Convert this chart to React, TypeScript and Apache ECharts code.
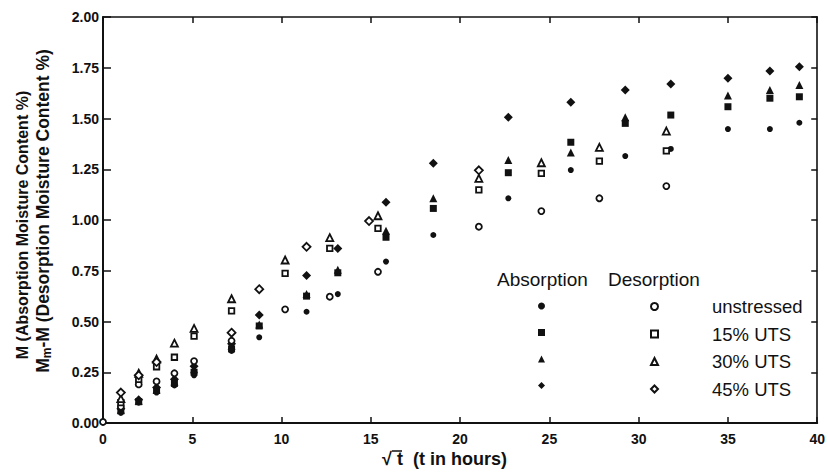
import React, { useEffect, useRef } from "react";
import * as echarts from "echarts";

const xTicks = [0, 5, 10, 15, 20, 25, 30, 35, 40];
const yTicks = [0, 0.25, 0.5, 0.75, 1.0, 1.25, 1.5, 1.75, 2.0];

const absX = [1, 2, 3, 4, 5.1, 7.2, 8.75, 11.4, 13.15, 15.85, 18.5, 22.7, 26.2, 29.25, 31.8, 35, 37.35, 39];
const absUnstressed = [0.05, 0.1, 0.15, 0.185, 0.235, 0.355, 0.422, 0.548, 0.635, 0.795, 0.926, 1.107, 1.246, 1.315, 1.35, 1.448, 1.448, 1.479];
const abs15 = [0.06, 0.105, 0.16, 0.195, 0.25, 0.365, 0.478, 0.625, 0.74, 0.915, 1.057, 1.233, 1.383, 1.476, 1.517, 1.558, 1.6, 1.607];
const abs30 = [0.065, 0.11, 0.165, 0.205, 0.265, 0.38, 0.485, 0.635, 0.755, 0.947, 1.107, 1.296, 1.333, 1.506, null, 1.613, 1.64, 1.665];
const abs45 = [0.07, 0.115, 0.175, 0.215, 0.28, 0.39, 0.532, 0.726, 0.86, 1.087, 1.279, 1.506, 1.58, 1.64, 1.67, 1.698, 1.734, 1.755];

const desX = [0, 1, 2, 3, 4, 5.1, 7.2, 8.75, 10.2, 11.4, 12.7, 14.9, 15.4, 21.05, 24.55, 27.8, 31.55];
const desUnstressed = [0.005, 0.08, 0.19, 0.205, 0.245, 0.305, 0.405, null, 0.56, null, 0.622, null, 0.745, 0.967, 1.044, 1.107, 1.167];
const des15 = [null, 0.1, 0.215, 0.277, 0.324, 0.428, 0.552, null, 0.737, null, 0.86, null, 0.959, 1.148, 1.23, 1.29, 1.341];
const des30 = [null, 0.12, 0.245, 0.315, 0.393, 0.466, 0.612, null, 0.803, null, 0.913, null, 1.021, 1.205, 1.282, 1.358, 1.438];
const des45 = [null, 0.15, 0.235, 0.3, null, null, 0.445, 0.659, null, 0.868, null, 0.995, null, 1.245, null, null, null];

const stressLabels = ["unstressed", "15% UTS", "30% UTS", "45% UTS"];

const FONT = "Liberation Sans, Arial, Helvetica, sans-serif";
const INK = "#111";

function pairs(xs: number[], ys: (number | null)[]) {
  const out: number[][] = [];
  xs.forEach((x, i) => {
    const y = ys[i];
    if (y !== null && y !== undefined) out.push([x, y]);
  });
  return out;
}

export default function App() {
  const ref = useRef<HTMLDivElement>(null);

  useEffect(() => {
    if (!ref.current) return;
    const chart = echarts.init(ref.current, undefined, { renderer: "svg" });

    const absSets = [absUnstressed, abs15, abs30, abs45];
    const desSets = [desUnstressed, des15, des30, des45];
    const symbols = ["circle", "rect", "triangle", "diamond"];
    const absSizes = [6, 7, 8, 9];
    const desSizes = [6, 5.5, 7, 8];

    const series: any[] = [];
    stressLabels.forEach((lab, i) => {
      series.push({
        name: "Absorption " + lab,
        type: "scatter",
        symbol: symbols[i],
        symbolSize: absSizes[i],
        itemStyle: { color: INK, borderColor: INK, borderWidth: 0, opacity: 1 },
        data: pairs(absX, absSets[i]),
        z: 3,
      });
    });
    stressLabels.forEach((lab, i) => {
      series.push({
        name: "Desorption " + lab,
        type: "scatter",
        symbol: symbols[i],
        symbolSize: desSizes[i],
        itemStyle: { color: "#fff", borderColor: INK, borderWidth: 1.8, opacity: 1 },
        data: pairs(desX, desSets[i]),
        z: 4,
      });
    });

    const axisCommon = {
      min: 0,
      axisLine: { show: true, onZero: false, lineStyle: { color: INK, width: 2 } },
      axisTick: { show: true, inside: true, length: 6, lineStyle: { color: INK, width: 1.5 } },
      splitLine: { show: false },
    };

    const legendCommon = {
      orient: "vertical",
      top: 292,
      itemWidth: 7,
      itemHeight: 7,
      itemGap: 8.5,
      selectedMode: false,
    };

    chart.setOption({
      animation: false,
      backgroundColor: "#fff",
      grid: { left: 103, right: 9, top: 17, bottom: 53, containLabel: false },
      xAxis: [
        {
          ...axisCommon,
          type: "value",
          position: "bottom",
          max: 40,
          interval: 5,
          axisLabel: {
            color: INK,
            fontFamily: FONT,
            fontSize: 14,
            fontWeight: "bold",
            margin: 9,
            formatter: (v: number) => (xTicks.includes(v) ? String(v) : ""),
          },
        },
        {
          ...axisCommon,
          type: "value",
          position: "top",
          max: 40,
          interval: 5,
          axisLine: { show: true, onZero: false, lineStyle: { color: INK, width: 1.6 } },
          axisLabel: { show: false },
        },
      ],
      yAxis: [
        {
          ...axisCommon,
          type: "value",
          position: "left",
          max: 2,
          interval: 0.25,
          axisTick: { show: true, inside: true, length: 8, lineStyle: { color: INK, width: 1.5 } },
          axisLabel: {
            color: INK,
            fontFamily: FONT,
            fontSize: 14,
            fontWeight: "bold",
            margin: 4,
            formatter: (v: number) => (yTicks.some((t) => Math.abs(t - v) < 1e-9) ? v.toFixed(2) : ""),
          },
        },
        {
          ...axisCommon,
          type: "value",
          position: "right",
          max: 2,
          interval: 0.25,
          axisLine: { show: true, onZero: false, lineStyle: { color: INK, width: 1.6 } },
          axisLabel: { show: false },
        },
      ],
      legend: [
        {
          ...legendCommon,
          left: 533,
          data: stressLabels.map((l) => "Absorption " + l),
          formatter: () => " ",
          textStyle: { fontSize: 18, lineHeight: 18, fontFamily: FONT },
        },
        {
          ...legendCommon,
          left: 645,
          data: stressLabels.map((l) => "Desorption " + l),
          formatter: (name: string) => name.replace("Desorption ", ""),
          textStyle: {
            fontSize: 18.5,
            lineHeight: 18,
            fontFamily: FONT,
            color: INK,
            padding: [0, 0, 0, 49],
          },
        },
      ],
      graphic: [
        {
          type: "text",
          left: 497,
          top: 270,
          style: { text: "Absorption", font: `19px ${FONT}`, fill: INK },
        },
        {
          type: "text",
          left: 608,
          top: 270,
          style: { text: "Desorption", font: `19px ${FONT}`, fill: INK },
        },
        {
          type: "text",
          x: 22,
          y: 225,
          rotation: Math.PI / 2,
          style: {
            text: "M (Absorption Moisture Content %)",
            font: `bold 16px ${FONT}`,
            fill: INK,
            align: "center",
            verticalAlign: "middle",
          },
        },
        {
          type: "text",
          x: 43,
          y: 211,
          rotation: Math.PI / 2,
          style: {
            text: "{a|M}{s|m}{a|-M (Desorption Moisture Content %)}",
            align: "center",
            verticalAlign: "middle",
            fill: INK,
            rich: {
              a: { font: `bold 17.5px ${FONT}`, fill: INK, verticalAlign: "middle" },
              s: { font: `bold 12px ${FONT}`, fill: INK, verticalAlign: "bottom", padding: [8, 0, 0, 0] },
            },
          },
        },
        {
          type: "text",
          left: 382,
          top: 450,
          style: { text: "√ t", font: `bold 18px ${FONT}`, fill: INK },
        },
        {
          type: "line",
          shape: { x1: 392, y1: 451, x2: 402, y2: 451 },
          style: { stroke: INK, lineWidth: 1.5 },
        },
        {
          type: "text",
          left: 413,
          top: 450,
          style: { text: "(t in hours)", font: `bold 18px ${FONT}`, fill: INK },
        },
      ],
      series,
    });

    return () => chart.dispose();
  }, []);

  return (
    <div
      ref={ref}
      style={{ position: "fixed", left: 0, top: 0, width: 828, height: 476, background: "#fff" }}
    />
  );
}
